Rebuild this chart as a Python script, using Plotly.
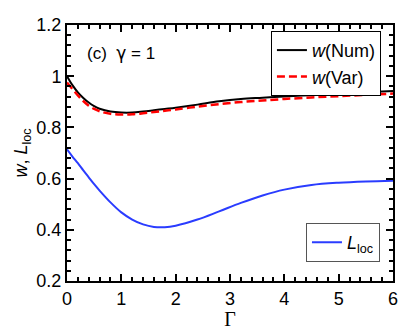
import plotly.graph_objects as go

# values
gamma = [0, 0.1, 0.2, 0.3, 0.4, 0.5, 0.6, 0.8, 1.0, 1.2, 1.4, 1.6, 1.8, 2.0,
         2.4, 2.8, 3.2, 3.6, 4.0, 4.5, 5.0, 5.5, 6.0]
w_num = [1.0, 0.965, 0.937, 0.915, 0.897, 0.883, 0.873, 0.862, 0.858, 0.858,
         0.862, 0.867, 0.872, 0.877, 0.889, 0.902, 0.911, 0.916, 0.921, 0.926,
         0.932, 0.937, 0.942]
w_var = [0.975, 0.95, 0.925, 0.903, 0.885, 0.872, 0.863, 0.853, 0.85, 0.851,
         0.855, 0.86, 0.865, 0.87, 0.881, 0.891, 0.899, 0.905, 0.911, 0.917,
         0.922, 0.927, 0.932]
l_loc = [0.714, 0.686, 0.66, 0.632, 0.605, 0.578, 0.553, 0.507, 0.468, 0.44,
         0.421, 0.411, 0.41, 0.416, 0.44, 0.472, 0.505, 0.534, 0.557, 0.575,
         0.584, 0.589, 0.592]

x_ticks = [0, 1, 2, 3, 4, 5, 6]
y_ticks = [0.2, 0.4, 0.6, 0.8, 1.0, 1.2]
y_labels = ["0.2", "0.4", "0.6", "0.8", "1", "1.2"]

font = "Liberation Sans, Arial, sans-serif"

fig = go.Figure()
fig.add_trace(go.Scatter(x=gamma, y=w_num, mode="lines", name="<i>w</i>(Num)",
                         line=dict(color="black", width=2, shape="spline"), legend="legend"))
fig.add_trace(go.Scatter(x=gamma, y=w_var, mode="lines", name="<i>w</i>(Var)",
                         line=dict(color="#ff0000", width=2.5, dash="8px,4px", shape="spline"),
                         legend="legend"))
fig.add_trace(go.Scatter(x=gamma, y=l_loc, mode="lines", name="<i>L</i><sub>loc</sub>",
                         line=dict(color="#2a3cff", width=2, shape="spline"), legend="legend2"))

axis_common = dict(
    showline=True, linecolor="black", linewidth=2, mirror="allticks",
    ticks="inside", ticklen=7, tickwidth=2, tickcolor="black",
    showgrid=False, zeroline=False, automargin=False,
    tickfont=dict(family=font, size=18, color="black"),
)

fig.update_xaxes(range=[0, 6], tickvals=x_ticks,
                 minor=dict(dtick=0.2, ticks="inside", ticklen=4, tickwidth=1.5, tickcolor="black"),
                 title=dict(text="Γ", font=dict(family="Liberation Serif, Times New Roman, serif",
                                                size=20, color="black"), standoff=0),
                 **axis_common)
fig.update_yaxes(range=[0.2, 1.2], tickvals=y_ticks, ticktext=y_labels,
                 minor=dict(dtick=0.04, ticks="inside", ticklen=4, tickwidth=1.5, tickcolor="black"),
                 title=dict(text="<i>w</i>, <i>L</i><sub>loc</sub>",
                            font=dict(family=font, size=18, color="black"), standoff=4),
                 **axis_common)

fig.add_annotation(x=0.055, y=0.89, xref="paper", yref="paper", xanchor="left", yanchor="middle",
                   text="(c)  <span style='font-family:DejaVu Sans'>γ</span> = 1", showarrow=False,
                   font=dict(family=font, size=17, color="black"))

# the page body adds an 8px offset, so the figure is sized to fill the rest of the window
fig.update_layout(
    width=399, height=322,
    margin=dict(l=59, r=14, t=17, b=49),
    plot_bgcolor="white", paper_bgcolor="white",
    legend=dict(x=0.963, y=0.977, xanchor="right", yanchor="top",
                bordercolor="black", borderwidth=1, bgcolor="white",
                font=dict(family=font, size=18, color="black"),
                itemwidth=30, tracegroupgap=0),
    legend2=dict(x=0.96, y=0.074, xanchor="right", yanchor="bottom",
                 bordercolor="#555555", borderwidth=1, bgcolor="white",
                 font=dict(family=font, size=18, color="black"),
                 itemwidth=30),
)

fig.write_html("out.html")
